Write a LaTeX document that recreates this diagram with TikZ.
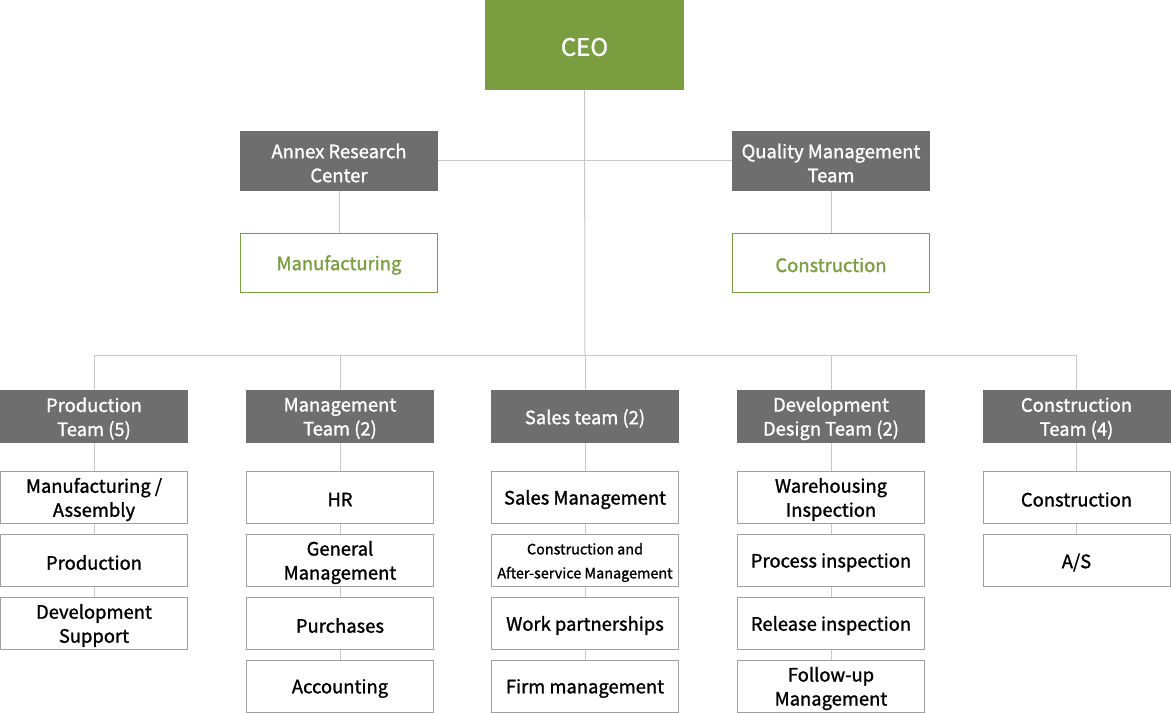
\documentclass[tikz,border=0pt]{standalone}
\usepackage{fontspec}
\setmainfont{Noto Sans CJK KR}[FakeBold=1.3]
\usetikzlibrary{backgrounds}
\definecolor{ogreen}{HTML}{7A9E3F}
\definecolor{ogray}{HTML}{6E6E6E}
\definecolor{oline}{HTML}{C8C8C8}
\definecolor{oborder}{HTML}{A0A0A0}
\tikzset{
  x=1pt,y=-1pt,
  txt/.style={align=center,inner sep=0pt,yshift=-2pt,font=\fontsize{18.4}{24}\selectfont},
  ceobox/.style={fill=ogreen,draw=none,minimum width=199pt,minimum height=90pt,inner sep=0pt,
    label={[txt,text=white,font=\fontsize{24}{28}\selectfont]center:#1}},
  headbox/.style={fill=ogray,draw=none,minimum width=198pt,minimum height=60pt,inner sep=0pt,
    label={[txt,text=white]center:#1}},
  greenbox/.style={fill=white,draw=ogreen,line width=1pt,minimum width=197pt,minimum height=59pt,inner sep=0pt,
    label={[txt,text=ogreen]center:#1}},
  teambox/.style={fill=ogray,draw=none,minimum width=188pt,minimum height=53pt,inner sep=0pt,
    label={[txt,text=white]center:#1}},
  subbox/.style={fill=white,draw=oborder,line width=1pt,minimum width=187pt,minimum height=52pt,inner sep=0pt,
    label={[txt,text=black]center:#1}},
  smallsub/.style={fill=white,draw=oborder,line width=1pt,minimum width=187pt,minimum height=52pt,inner sep=0pt,
    label={[txt,text=black,font=\fontsize{14.4}{24}\selectfont]center:#1}},
  conn/.style={draw=oline,line width=1pt},
}
\begin{document}
\begin{tikzpicture}
\useasboundingbox (0,0) rectangle (1171,714);
% top
\node[ceobox={CEO}] (ceo) at (584.5,45) {};
\node[headbox={Annex Research\\Center}] (annex) at (339,161) {};
\node[headbox={Quality Management\\Team}] (qm) at (831,161) {};
\node[greenbox={Manufacturing}] (mfg) at (339,263) {};
\node[greenbox={Construction}] (cons) at (831,263) {};
\coordinate (hub) at (585,355);
% teams
\node[teambox={Production\\Team (5)}] (t1) at (94,416.5) {};
\node[teambox={Management\\Team (2)}] (t2) at (340,416.5) {};
\node[teambox={Sales team (2)}] (t3) at (585,416.5) {};
\node[teambox={Development\\Design Team (2)}] (t4) at (831,416.5) {};
\node[teambox={Construction\\Team (4)}] (t5) at (1076.5,416.5) {};
% subs
\node[subbox={Manufacturing /\\Assembly}] (a1) at (94,497.5) {};
\node[subbox={Production}] (a2) at (94,560.5) {};
\node[subbox={Development\\Support}] (a3) at (94,623.5) {};
\node[subbox={HR}] (b1) at (340,497.5) {};
\node[subbox={General\\Management}] (b2) at (340,560.5) {};
\node[subbox={Purchases}] (b3) at (340,623.5) {};
\node[subbox={Accounting}] (b4) at (340,686.5) {};
\node[subbox={Sales Management}] (c1) at (585,497.5) {};
\node[smallsub={Construction and\\After-service Management}] (c2) at (585,560.5) {};
\node[subbox={Work partnerships}] (c3) at (585,623.5) {};
\node[subbox={Firm management}] (c4) at (585,686.5) {};
\node[subbox={Warehousing\\Inspection}] (d1) at (831,497.5) {};
\node[subbox={Process inspection}] (d2) at (831,560.5) {};
\node[subbox={Release inspection}] (d3) at (831,623.5) {};
\node[subbox={Follow-up\\Management}] (d4) at (831,686.5) {};
\node[subbox={Construction}] (e1) at (1076.5,497.5) {};
\node[subbox={A/S}] (e2) at (1076.5,560.5) {};
\begin{scope}[on background layer]
\draw[conn] (ceo.south) -- (hub);
\draw[conn] (annex.east) -- (qm.west);
\draw[conn] (annex.south) -- (mfg.north);
\draw[conn] (qm.south) -- (cons.north);
\coordinate (l1) at (t1.north |- hub);
\coordinate (l5) at (t5.north |- hub);
\draw[conn] (t1.north) -- (l1) -- (l5) -- (t5.north);
\draw[conn] (t2.north) -- (t2.north |- hub);
\draw[conn] (t3.north) -- (hub);
\draw[conn] (t4.north) -- (t4.north |- hub);
\draw[conn] (t1.south) -- (a3.north);
\draw[conn] (t2.south) -- (b4.north);
\draw[conn] (t3.south) -- (c4.north);
\draw[conn] (t4.south) -- (d4.north);
\draw[conn] (t5.south) -- (e2.north);
\end{scope}
\end{tikzpicture}
\end{document}
